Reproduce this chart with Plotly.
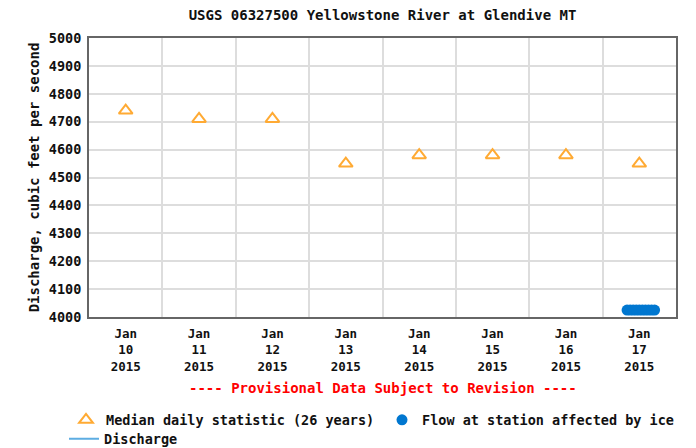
import plotly.graph_objects as go

# ---- data ----
days = ["2015-01-10", "2015-01-11", "2015-01-12", "2015-01-13",
        "2015-01-14", "2015-01-15", "2015-01-16", "2015-01-17"]
tick_labels = ["Jan<br>10<br>2015", "Jan<br>11<br>2015", "Jan<br>12<br>2015", "Jan<br>13<br>2015",
               "Jan<br>14<br>2015", "Jan<br>15<br>2015", "Jan<br>16<br>2015", "Jan<br>17<br>2015"]
median_times = [d + " 12:00" for d in days]
median_values = [4740, 4710, 4710, 4550, 4580, 4580, 4580, 4550]

ice_times = ["2015-01-17 08:00", "2015-01-17 09:00", "2015-01-17 10:00", "2015-01-17 11:00",
             "2015-01-17 12:00", "2015-01-17 13:00", "2015-01-17 14:00", "2015-01-17 15:00",
             "2015-01-17 16:00", "2015-01-17 17:00"]
ice_values = [4025, 4025, 4025, 4025, 4025, 4025, 4025, 4025, 4025, 4025]

grid_days = days + ["2015-01-18"]

FONT = "DejaVu Sans Mono"
fs = 13.5

fig = go.Figure()
fig.add_trace(go.Scatter(
    x=median_times, y=median_values, mode="markers",
    name="Median daily statistic (26 years)",
    marker=dict(symbol="triangle-up-open", size=12, color="#FFAA33", line=dict(width=2, color="#FFAA33")),
    legend="legend"))
fig.add_trace(go.Scatter(
    x=ice_times, y=ice_values, mode="markers",
    name="Flow at station affected by ice",
    marker=dict(symbol="circle", size=11, color="#0077D0"),
    legend="legend3"))
fig.add_trace(go.Scatter(
    x=[None], y=[None], mode="lines", name="Discharge",
    line=dict(color="#5DADE2", width=2),
    legend="legend2"))

leg_common = dict(orientation="h", xref="container", yref="container",
                  xanchor="left", yanchor="middle",
                  bgcolor="rgba(0,0,0,0)", borderwidth=0,
                  font=dict(family=FONT, size=fs, weight="bold"))

fig.update_layout(
    width=696, height=448,
    margin=dict(l=89, r=20, t=38, b=131),
    paper_bgcolor="white", plot_bgcolor="white",
    font=dict(family=FONT, size=fs, color="#111111", weight="bold"),
    title=dict(text="USGS 06327500 Yellowstone River at Glendive MT",
               x=0.5, xref="paper", xanchor="center",
               y=1 - 15 / 448, yref="container", yanchor="middle",
               font=dict(family=FONT, size=14, color="#111111", weight="bold")),
    xaxis=dict(
        type="date", range=["2015-01-10", "2015-01-18"],
        tickmode="array", tickvals=median_times, ticktext=tick_labels,
        showgrid=False, ticks="", ticklabelstandoff=4,
        tickfont=dict(family=FONT, size=12.5, weight="bold"),
        minor=dict(tickmode="array", tickvals=grid_days, showgrid=True,
                   gridcolor="#DDDDDD", gridwidth=1.5, ticks=""),
        showline=True, linecolor="#666666", linewidth=2, mirror=True,
        zeroline=False, fixedrange=True),
    yaxis=dict(
        range=[4000, 5000], tickmode="linear", tick0=4000, dtick=100,
        showgrid=True, gridcolor="#DDDDDD", gridwidth=1.5,
        ticks="", ticklabelstandoff=3,
        tickfont=dict(family=FONT, size=fs, weight="bold"),
        title=dict(text="Discharge, cubic feet per second", standoff=6,
                   font=dict(family=FONT, size=14, weight="bold")),
        showline=True, linecolor="#666666", linewidth=2, mirror=True,
        zeroline=False, fixedrange=True),
    legend=dict(leg_common, x=66 / 696, y=1 - 420 / 448),
    legend3=dict(leg_common, x=382 / 696, y=1 - 420 / 448),
    legend2=dict(leg_common, x=64 / 696, y=1 - 439 / 448),
    showlegend=True,
    annotations=[dict(text="---- Provisional Data Subject to Revision ----",
                      x=0.5, xref="paper", y=(317 - 388) / 279, yref="paper",
                      xanchor="center", yanchor="middle", showarrow=False,
                      font=dict(family=FONT, size=14, color="#FF0000", weight="bold"))],
)

fig.write_html("out.html", config={"displayModeBar": False},
               post_script="document.body.style.margin='0';")
